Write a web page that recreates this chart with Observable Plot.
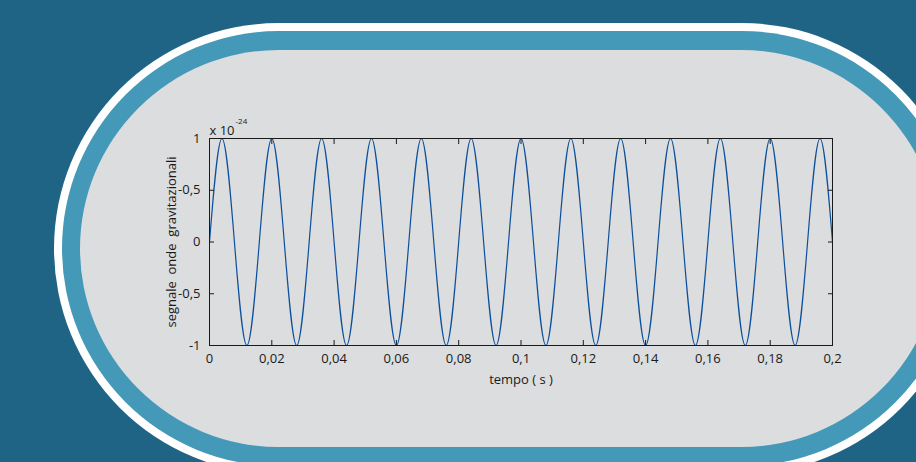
<!DOCTYPE html>
<html>
<head>
<meta charset="utf-8">
<script src="https://cdn.jsdelivr.net/npm/d3@7"></script>
<script src="https://cdn.jsdelivr.net/npm/@observablehq/plot@0.6"></script>
<style>
  html, body { margin: 0; padding: 0; width: 916px; height: 462px; overflow: hidden; background: #1f6385; }
  #bg, #chart { position: absolute; left: 0; top: 0; }
</style>
</head>
<body>
<svg id="bg" width="916" height="462">
  <rect x="54" y="23" width="913" height="451" rx="225" ry="225.5" fill="#ffffff"/>
  <rect x="62" y="31" width="897" height="435" rx="217" ry="217.5" fill="#4499b8"/>
  <rect x="80" y="50" width="860" height="397" rx="199" ry="198.5" fill="#dcdddf"/>
</svg>
<div id="chart"></div>
<script>
// Gravitational-wave signal sampled at its zero crossings and extrema (amplitude in units of 1e-24)
const time = [0, 0.004, 0.008, 0.012, 0.016, 0.02, 0.024, 0.028, 0.032, 0.036,
  0.04, 0.044, 0.048, 0.052, 0.056, 0.06, 0.064, 0.068, 0.072, 0.076,
  0.08, 0.084, 0.088, 0.092, 0.096, 0.1, 0.104, 0.108, 0.112, 0.116,
  0.12, 0.124, 0.128, 0.132, 0.136, 0.14, 0.144, 0.148, 0.152, 0.156,
  0.16, 0.164, 0.168, 0.172, 0.176, 0.18, 0.184, 0.188, 0.192, 0.196, 0.2];
const signal = [0, 1, 0, -1, 0, 1, 0, -1, 0, 1,
  0, -1, 0, 1, 0, -1, 0, 1, 0, -1,
  0, 1, 0, -1, 0, 1, 0, -1, 0, 1,
  0, -1, 0, 1, 0, -1, 0, 1, 0, -1,
  0, 1, 0, -1, 0, 1, 0, -1, 0, 1, 0];

const xTicks = [0, 0.02, 0.04, 0.06, 0.08, 0.1, 0.12, 0.14, 0.16, 0.18, 0.2];
const xTickLabels = ["0", "0,02", "0,04", "0,06", "0,08", "0,1", "0,12", "0,14", "0,16", "0,18", "0,2"];
const yTicks = [-1, -0.5, 0, 0.5, 1];
const yTickLabels = ["-1", "-0,5", "0", "-0,5", "1"];

const xLabel = "tempo ( s )";
const yLabel = "segnale\u00a0 onde\u00a0 gravitazionali";
const scaleBase = "x 10";
const scaleExponent = "-24";

const data = time.map((t, i) => ({t, v: signal[i]}));
const xFmt = new Map(xTicks.map((d, i) => [d, xTickLabels[i]]));
const yFmt = new Map(yTicks.map((d, i) => [d, yTickLabels[i]]));

const ink = "#1a1a1a";
const chart = Plot.plot({
  width: 916,
  height: 462,
  marginLeft: 209,
  marginRight: 84,
  marginTop: 138,
  marginBottom: 117,
  style: {background: "transparent", fontFamily: "'Open Sans', sans-serif", fontSize: "13px", color: ink},
  x: {domain: [0, 0.2], label: null},
  y: {domain: [-1, 1], label: null},
  marks: [
    Plot.line(data, {x: "t", y: "v", curve: "natural", stroke: "#0d4f9c", strokeWidth: 1.2, clip: true}),
    Plot.frame({stroke: ink, strokeWidth: 1}),
    Plot.axisX(xTicks, {anchor: "bottom", tickSize: -5, tickPadding: 13, tickFormat: d => xFmt.get(d), stroke: ink, fill: ink, fontSize: 13}),
    Plot.axisX(xTicks, {anchor: "top", tickSize: -5, fill: "none", stroke: ink}),
    Plot.axisY(yTicks, {anchor: "left", tickSize: -5, tickPadding: 14, tickFormat: d => yFmt.get(d), stroke: ink, fill: ink, fontSize: 13}),
    Plot.axisY(yTicks, {anchor: "right", tickSize: -5, fill: "none", stroke: ink}),
    Plot.text([xLabel], {frameAnchor: "bottom", dy: 34, lineAnchor: "middle", fill: ink, fontSize: 13}),
    Plot.text([yLabel], {frameAnchor: "left", textAnchor: "middle", dx: -38, rotate: -90, lineAnchor: "middle", fill: ink, fontSize: 13}),
    Plot.text([scaleBase], {frameAnchor: "top-left", textAnchor: "start", lineAnchor: "bottom", dy: -4, fill: ink, fontSize: 13}),
    Plot.text([scaleExponent], {frameAnchor: "top-left", textAnchor: "start", lineAnchor: "bottom", dx: 26, dy: -15, fill: ink, fontSize: 8})
  ]
});
document.getElementById("chart").appendChild(chart);
</script>
</body>
</html>
